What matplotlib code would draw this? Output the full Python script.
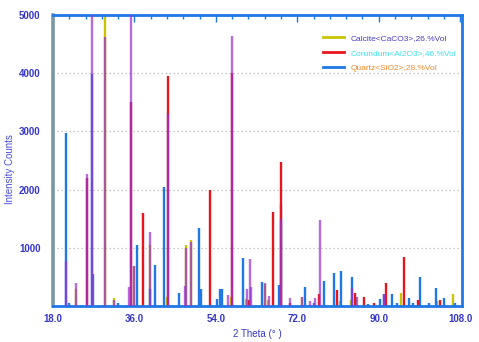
import matplotlib
matplotlib.use("Agg")
import matplotlib.pyplot as plt
from matplotlib.lines import Line2D
import numpy as np

# ---- data (2 theta in degrees, intensity counts) ----
pattern_pos = [20.87, 23.08, 25.5, 26.61, 29.41, 31.4, 34.85, 35.15, 35.95, 39.48,
               43.45, 47.14, 47.5, 48.6, 56.7, 57.67, 60.9, 61.5, 61.86, 64.8,
               65.75, 68.44, 70.47, 73.03, 74.73, 75.84, 77.09, 84.07, 85.3, 91.13]
pattern_int = [780, 400, 2270, 5200, 4620, 100, 330, 5200, 690, 1280,
               3300, 340, 1000, 1100, 190, 4640, 290, 800, 330, 390,
               170, 1500, 130, 160, 90, 130, 1470, 310, 150, 200]

calcite_pos = [23.08, 29.41, 31.47, 35.95, 39.48, 43.2, 47.5, 48.6, 57.4, 60.7,
               64.8, 65.6, 73.03, 81.5, 83.8, 85.04, 94.98, 102.9, 106.37]
calcite_int = [300, 5200, 130, 690, 1040, 150, 1050, 1135, 150, 120,
               380, 100, 160, 80, 100, 160, 220, 80, 200]

corundum_pos = [25.5, 35.15, 37.82, 43.45, 52.66, 57.67, 61.3, 66.63, 68.44, 70.4,
                76.9, 80.85, 84.67, 86.72, 89.0, 91.5, 95.48, 98.64, 103.43]
corundum_int = [2200, 3500, 1600, 3950, 1990, 4000, 100, 1610, 2470, 50,
                200, 275, 220, 160, 50, 400, 840, 100, 100]

quartz_pos = [20.87, 21.6, 26.61, 26.85, 32.4, 36.6, 39.48, 40.45, 42.6, 45.88,
              50.23, 50.82, 54.14, 55.0, 55.3, 60.05, 64.2, 67.89, 68.3, 73.78,
              75.7, 77.89, 80.1, 81.73, 84.07, 87.6, 90.18, 91.13, 92.99, 94.0,
              96.59, 97.54, 99.17, 101.07, 102.7, 104.53, 106.9]
quartz_int = [2970, 50, 3990, 545, 60, 1050, 300, 700, 2050, 220,
              1345, 290, 120, 290, 300, 830, 410, 360, 1750, 320,
              60, 430, 560, 605, 490, 35, 115, 200, 200, 50,
              130, 60, 490, 50, 315, 140, 50]

legend_labels = ["Calcite<CaCO3>,26.%Vol", "Corundum<Al2O3>,46.%Vol", "Quartz<SiO2>,28.%Vol"]
legend_text_colors = ["#4a3fc8", "#3ee0f0", "#f08a2a"]

x_ticks = [18.0, 36.0, 54.0, 72.0, 90.0, 108.0]
y_ticks = [1000, 2000, 3000, 4000, 5000]

# ---- styling ----
c_calcite = "#c8c400"
c_corundum = "#e8141e"
c_quartz = "#1e78e6"
c_pattern = "#9a32d2"
tick_color = "#3535c8"

plt.rcParams['font.family'] = ['Liberation Sans', 'DejaVu Sans']

fig = plt.figure(figsize=(4.79, 3.42), dpi=100)
ax = fig.add_axes([53/479, 1-306/342, (462-53)/479, (306-15)/342])

lw = 1.7
ax.vlines(calcite_pos, 0, calcite_int, colors=c_calcite, lw=lw, zorder=2)
ax.vlines(quartz_pos, 0, quartz_int, colors=c_quartz, lw=lw, zorder=2)
ax.vlines(corundum_pos, 0, corundum_int, colors=c_corundum, lw=lw, zorder=2)
ax.vlines(pattern_pos, 0, pattern_int, colors=c_pattern, lw=lw, alpha=0.72, zorder=3)

ax.set_xlim(18.0, 108.4)
ax.set_ylim(0, 5000)

ax.set_xticks(x_ticks)
ax.set_xticklabels([f"{v:.1f}" for v in x_ticks])
ax.set_yticks(y_ticks)
ax.set_yticklabels([str(v) for v in y_ticks])
ax.tick_params(axis='both', length=0, labelsize=7, labelcolor=tick_color)
ax.tick_params(axis='x', pad=6)
ax.tick_params(axis='y', pad=9)
for lab in ax.get_xticklabels() + ax.get_yticklabels():
    lab.set_fontweight('bold')

# top inside ticks
ax_top = ax.secondary_xaxis('top')
ax_top.set_xticks(np.arange(18.0, 108.5, 18.0))
ax_top.set_xticks(np.arange(18.0, 108.5, 3.6), minor=True)
ax_top.tick_params(which='major', direction='in', length=5, color=c_quartz, width=1, labeltop=False)
ax_top.tick_params(which='minor', direction='in', length=3, color=c_quartz, width=1)
ax_top.spines['top'].set_visible(False)

ax.yaxis.grid(True, linestyle=(0, (1.2, 2.0)), color="#c4c4c4", lw=0.9)
ax.set_axisbelow(True)

for s in ['top', 'right', 'bottom']:
    ax.spines[s].set_color(c_quartz)
    ax.spines[s].set_linewidth(2)
ax.spines['left'].set_color("#7a98a2")
ax.spines['left'].set_linewidth(2.6)

ax.set_xlabel("2 Theta (° )", fontsize=7, color=tick_color)
ax.xaxis.set_label_coords(0.5, -0.08)
ax.set_ylabel("Intensity Counts", fontsize=7, color="#4a4ae0")
ax.yaxis.set_label_coords(-0.093, 0.47)

handles = [Line2D([], [], color=c, lw=2) for c in (c_calcite, c_corundum, c_quartz)]
leg = ax.legend(handles, legend_labels, loc='upper left', bbox_to_anchor=(0.652, 0.945),
                frameon=False, fontsize=6.0, handlelength=2.5, handletextpad=0.8,
                labelspacing=0.85, borderaxespad=0)
for t, c in zip(leg.get_texts(), legend_text_colors):
    t.set_color(c)

fig.savefig("out.png", dpi=100, facecolor="white")
